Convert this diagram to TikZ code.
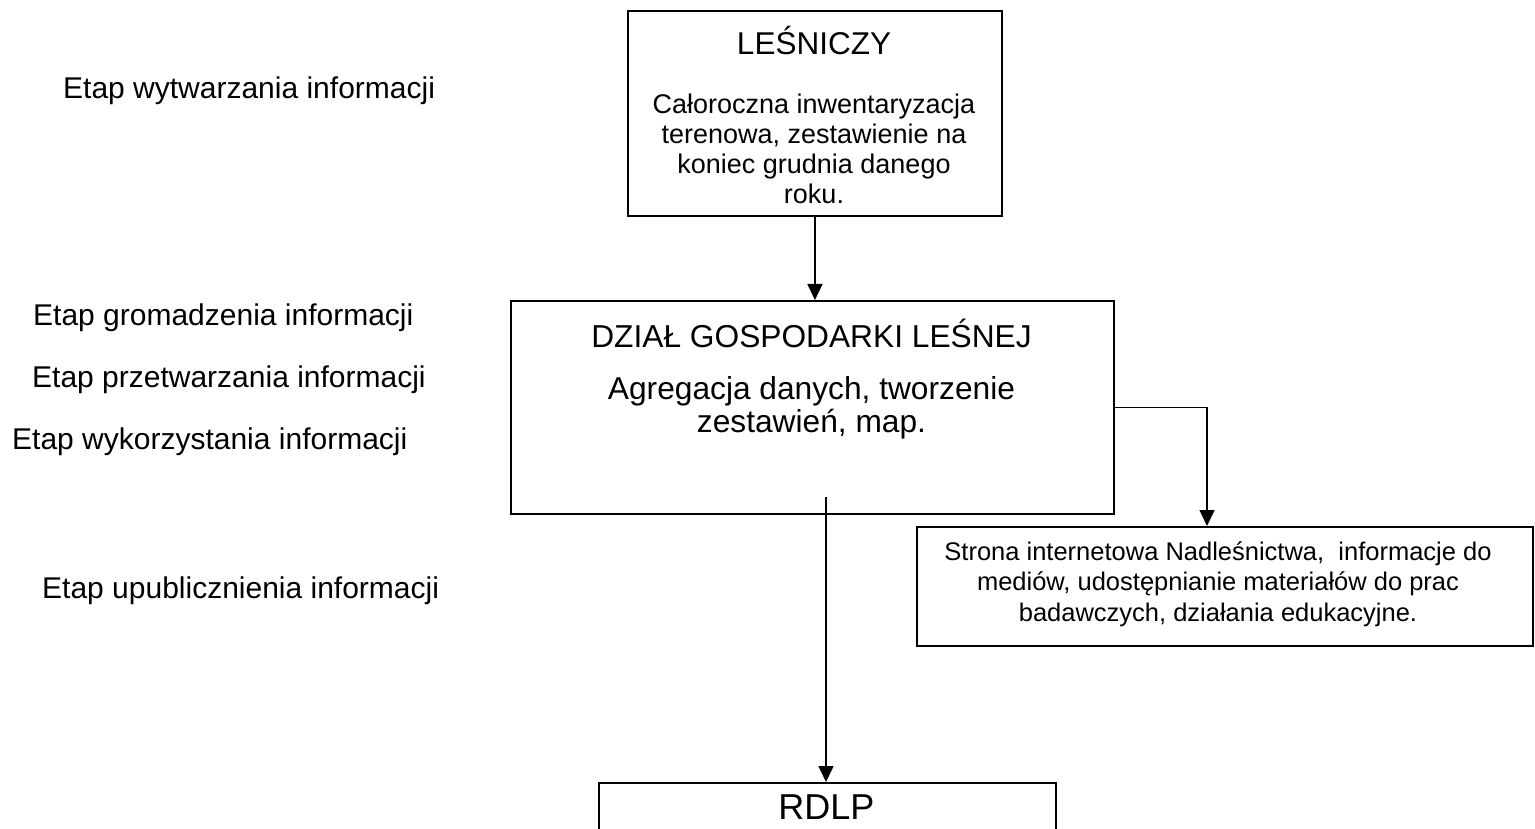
\documentclass[tikz,border=0pt]{standalone}
\usepackage{fontspec}
\setmainfont{Liberation Sans}
\usetikzlibrary{arrows.meta}
\begin{document}
\begin{tikzpicture}[x=1pt,y=-1pt,
  box/.style={draw, line width=1.9pt, inner sep=0pt, anchor=north west},
  conn/.style={line width=1.5pt},
  arr/.style={conn, -{Triangle[width=15pt,length=16pt]}},
  lbl/.style={anchor=base west, inner sep=0pt, font=\fontsize{30}{34}\selectfont},
  title/.style={anchor=base, inner sep=0pt},
  body/.style={anchor=base, inner sep=0pt, align=center}
]
\useasboundingbox (0,0) rectangle (1535,829);
\clip (0,0) rectangle (1535,829);
\fill[white] (0,0) rectangle (1535,829);

% boxes
\node[box, minimum width=374pt, minimum height=205pt] (lesn) at (627,10) {};
\node[box, minimum width=603pt, minimum height=213pt] (dzial) at (510,300) {};
\node[box, minimum width=616pt, minimum height=119pt] (strona) at (916,526) {};
\node[box, minimum width=457pt, minimum height=120pt] (rdlp) at (598,782) {};

% texts in boxes
\node[title, font=\fontsize{31.5}{34}\selectfont] (t1) at (814,55) {LEŚNICZY};
\node[body, font=\fontsize{27}{30}\selectfont] (b1) at (814,204) {Całoroczna inwentaryzacja\\terenowa, zestawienie na\\koniec grudnia danego\\roku.};
\node[title, font=\fontsize{31.7}{34}\selectfont] (t2) at (811.5,347) {DZIAŁ GOSPODARKI LEŚNEJ};
\node[body, font=\fontsize{31.7}{32.5}\selectfont] (b2) at (811.5,432) {Agregacja danych, tworzenie\\zestawień, map.};
\node[body, font=\fontsize{25.5}{30.5}\selectfont] (b3) at (1218,621) {Strona internetowa Nadleśnictwa,\ \ informacje do\\mediów, udostępnianie materiałów do prac\\badawczych, działania edukacyjne.};
\node[title, font=\fontsize{36}{40}\selectfont] (t4) at (826.5,819) {RDLP};

% stage labels
\node[lbl] (e1) at (63,99) {Etap wytwarzania informacji};
\node[lbl] (e2) at (33,325) {Etap gromadzenia informacji};
\node[lbl] (e3) at (32,387) {Etap przetwarzania informacji};
\node[lbl] (e4) at (12,449) {Etap wykorzystania informacji};
\node[lbl] (e5) at (42,598) {Etap upublicznienia informacji};

% connectors
\draw[arr] (lesn.south) -- (lesn.south |- dzial.north);
\coordinate (sin) at (1207,526);
\draw[arr] (dzial.east) -| (sin);
\coordinate (src) at (826,497);
\draw[arr] (src) -- (src |- rdlp.north);
\end{tikzpicture}
\end{document}
